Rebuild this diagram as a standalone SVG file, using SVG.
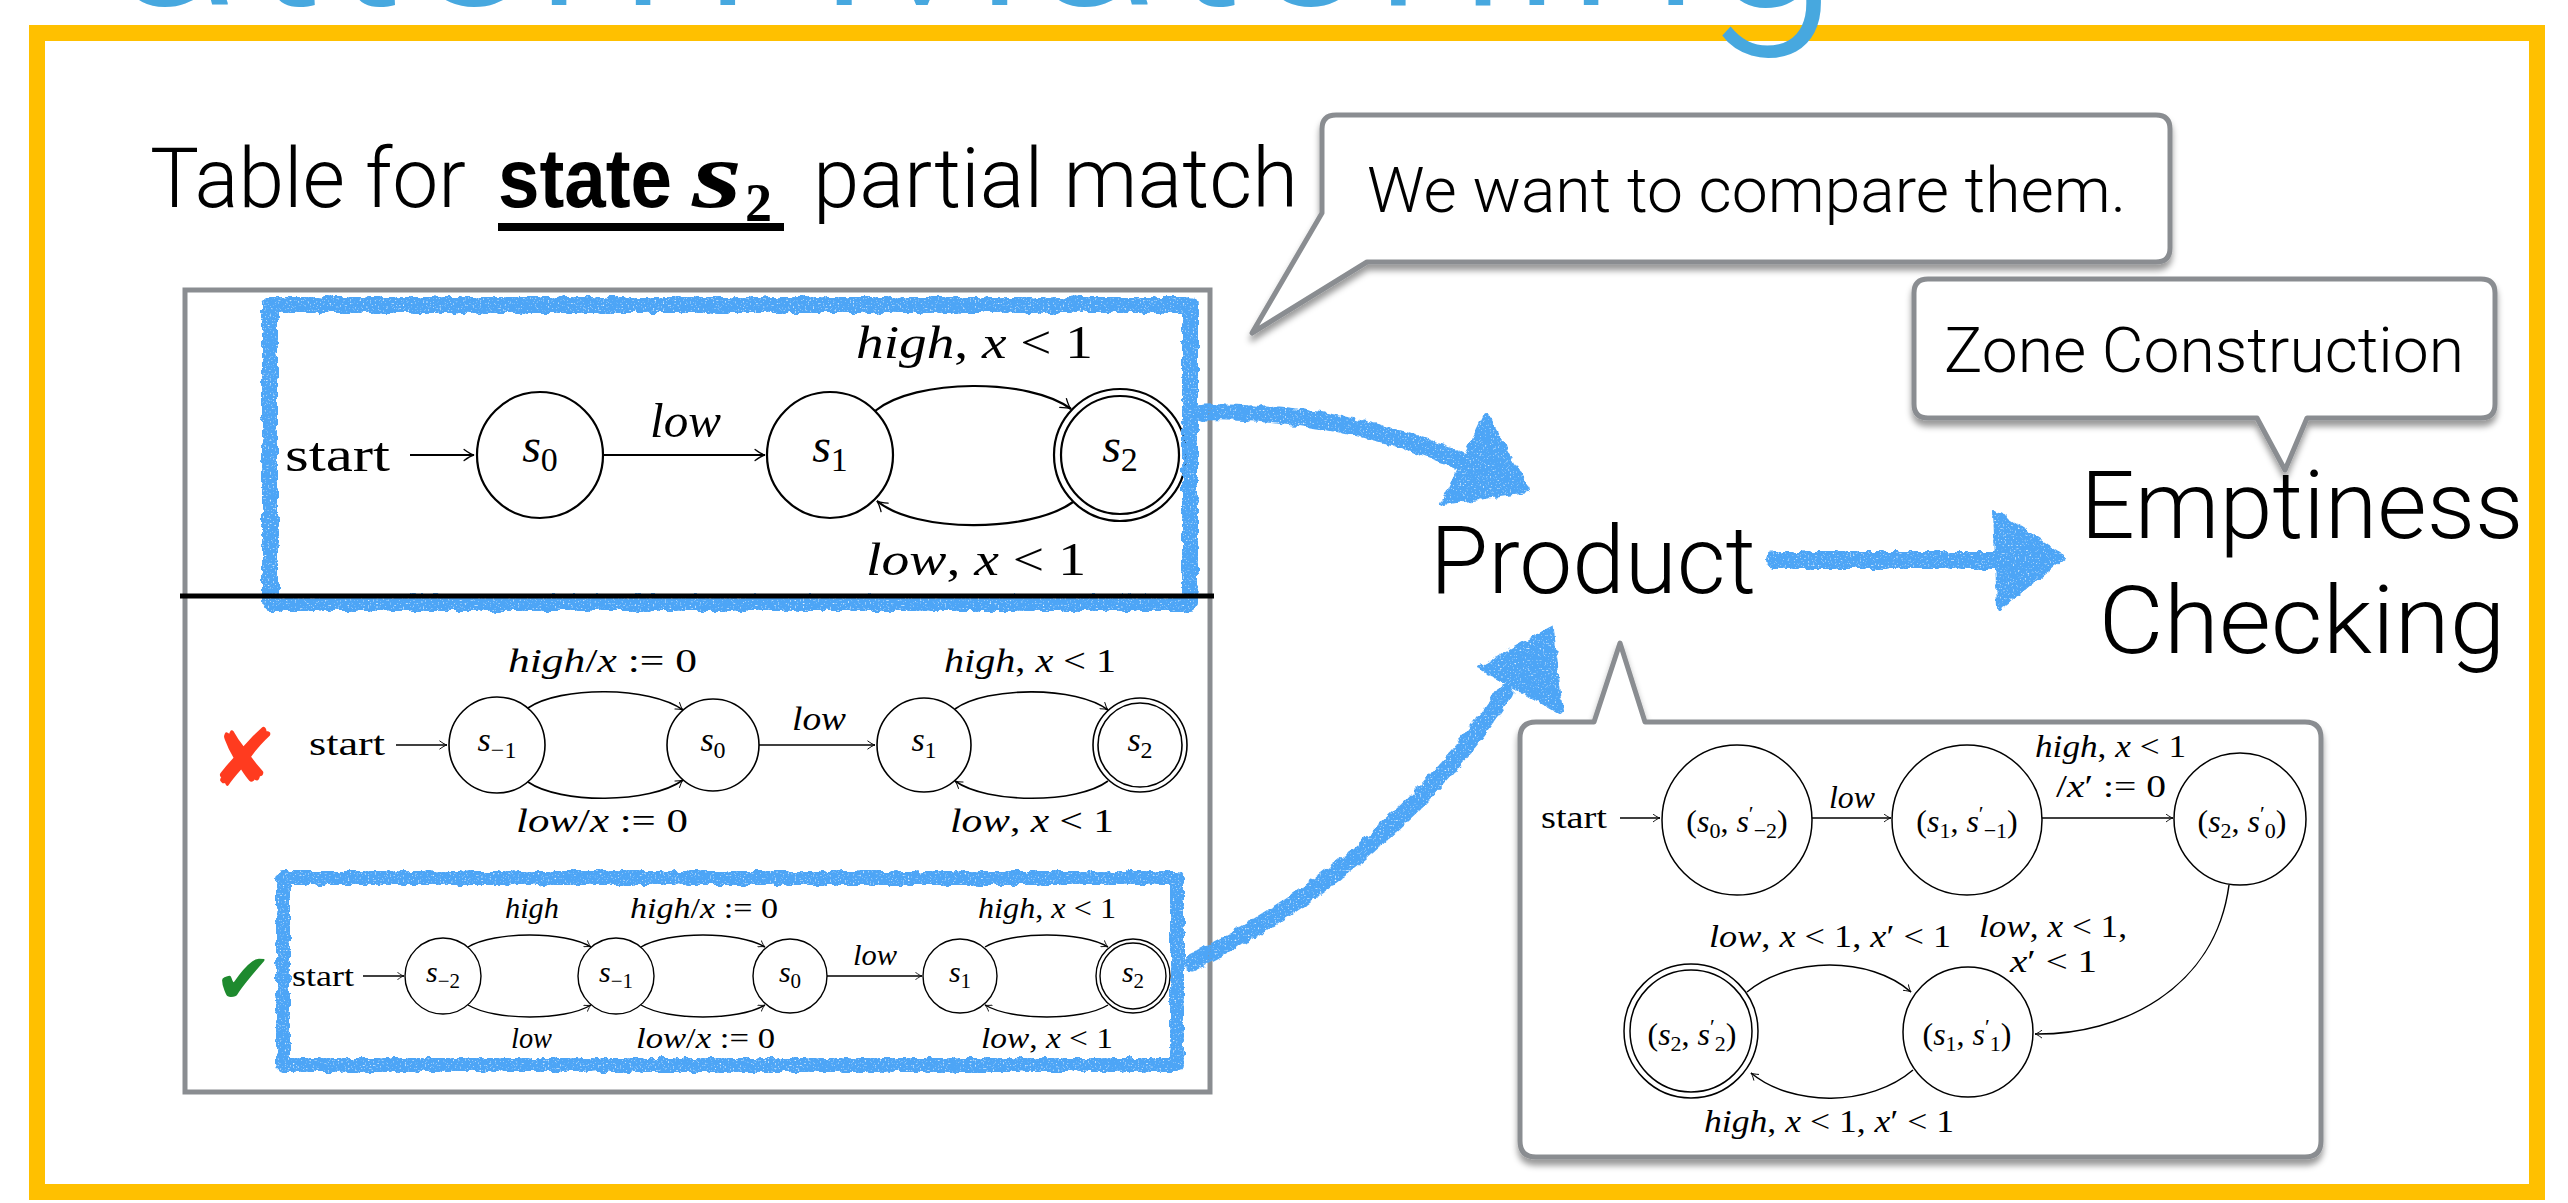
<svg xmlns="http://www.w3.org/2000/svg" width="2568" height="1203" viewBox="0 0 2568 1203">
<style>
.sans{font-family:Roboto,"Liberation Sans",Arial,sans-serif;font-weight:300;fill:#000}
.bsans{font-family:"Liberation Sans",Arial,sans-serif;font-weight:bold;fill:#000}
.m{font-family:"Liberation Serif","Times New Roman",serif;fill:#000}
.it{font-style:italic}
.st{fill:#fff;stroke:#000}
.ed{fill:none;stroke:#000;marker-end:url(#ah)}
.w1{stroke-width:2.2}
.w2{stroke-width:1.6}
.w3{stroke-width:1.4}
.w4{stroke-width:1.5}
.co{fill:#fff;stroke:#8A8D91;stroke-width:5;stroke-linejoin:round}
.blue{fill:none;stroke:#4DA5F6;stroke-linecap:round;stroke-linejoin:round}
.bluef{fill:#4DA5F6;stroke:#4DA5F6;stroke-width:4;stroke-linejoin:round}
</style>
<defs>
<marker id="ah" viewBox="-10 -6 12 12" refX="0" refY="0" markerWidth="6" markerHeight="6" orient="auto" markerUnits="strokeWidth">
<path d="M-9,-5 C-5,-2 -2,-0.5 0,0 C-2,0.5 -5,2 -9,5" fill="none" stroke="#000" stroke-width="1.2" stroke-linecap="round"/>
</marker>
<filter id="rough" x="-10%" y="-10%" width="120%" height="120%">
<feTurbulence type="fractalNoise" baseFrequency="0.12" numOctaves="2" seed="5" result="n"/>
<feDisplacementMap in="SourceGraphic" in2="n" scale="7" xChannelSelector="R" yChannelSelector="G" result="d"/>
<feTurbulence type="fractalNoise" baseFrequency="0.6" numOctaves="1" seed="9" result="n2"/>
<feColorMatrix in="n2" type="matrix" values="0 0 0 0 0  0 0 0 0 0  0 0 0 0 0  0 0 0 -4 3.4" result="mk"/>
<feComposite in="d" in2="mk" operator="in"/>
</filter>
<filter id="sh" x="-5%" y="-10%" width="110%" height="125%">
<feDropShadow dx="0" dy="6" stdDeviation="3" flood-color="#000" flood-opacity="0.4"/>
</filter>
</defs>

<rect width="2568" height="1203" fill="#fff"/>

<g id="frame">
<rect x="37" y="33" width="2500" height="1159" fill="none" stroke="#FFC000" stroke-width="16"/>
</g>

<g id="title">
<text class="sans" x="-42" y="5" font-size="250" textLength="1882" lengthAdjust="spacingAndGlyphs" style="fill:#47A8DF">Pattern Matching</text>
</g>

<g id="heading">
<text class="sans" x="150" y="207" font-size="84" textLength="316" lengthAdjust="spacingAndGlyphs">Table for</text>
<text class="bsans" x="498" y="207" font-size="84" textLength="174" lengthAdjust="spacingAndGlyphs">state</text>
<text class="m" x="692" y="207" font-size="96" font-weight="bold" font-style="italic" textLength="50" lengthAdjust="spacingAndGlyphs">s</text>
<text class="m" x="745" y="221" font-size="54" font-weight="bold">2</text>
<text class="sans" x="813" y="207" font-size="84" textLength="485" lengthAdjust="spacingAndGlyphs">partial match</text>
<rect x="498" y="223" width="286" height="8" fill="#000"/>
</g>

<g id="table">
<rect x="185" y="290" width="1025" height="802" fill="none" stroke="#8A8D91" stroke-width="5"/>
</g>

<!-- top automaton states -->
<g id="A-s0"><circle class="st w1" cx="540" cy="455" r="63"/><text class="m" x="540" y="462" font-size="48" text-anchor="middle"><tspan class="it">s</tspan><tspan dy="9" font-size="34">0</tspan></text></g>
<g id="A-s1"><circle class="st w1" cx="830" cy="455" r="63"/><text class="m" x="830" y="462" font-size="48" text-anchor="middle"><tspan class="it">s</tspan><tspan dy="9" font-size="34">1</tspan></text></g>
<g id="A-s2"><circle class="st w1" cx="1120" cy="455" r="66"/><circle class="st w1" cx="1120" cy="455" r="59"/><text class="m" x="1120" y="462" font-size="48" text-anchor="middle"><tspan class="it">s</tspan><tspan dy="9" font-size="34">2</tspan></text></g>

<!-- middle automaton states -->
<g id="B-sm1"><circle class="st w2" cx="497" cy="745" r="48"/><text class="m" x="497" y="751" font-size="34" text-anchor="middle"><tspan class="it">s</tspan><tspan dy="7" font-size="24">−1</tspan></text></g>
<g id="B-s0"><circle class="st w2" cx="713" cy="745" r="46"/><text class="m" x="713" y="751" font-size="34" text-anchor="middle"><tspan class="it">s</tspan><tspan dy="7" font-size="24">0</tspan></text></g>
<g id="B-s1"><circle class="st w2" cx="924" cy="745" r="47"/><text class="m" x="924" y="751" font-size="34" text-anchor="middle"><tspan class="it">s</tspan><tspan dy="7" font-size="24">1</tspan></text></g>
<g id="B-s2"><circle class="st w2" cx="1140" cy="745" r="47"/><circle class="st w2" cx="1140" cy="745" r="42"/><text class="m" x="1140" y="751" font-size="34" text-anchor="middle"><tspan class="it">s</tspan><tspan dy="7" font-size="24">2</tspan></text></g>

<!-- bottom automaton states -->
<g id="C-sm2"><circle class="st w3" cx="443" cy="976" r="38"/><text class="m" x="443" y="982" font-size="30" text-anchor="middle"><tspan class="it">s</tspan><tspan dy="6" font-size="21">−2</tspan></text></g>
<g id="C-sm1"><circle class="st w3" cx="616" cy="976" r="38"/><text class="m" x="616" y="982" font-size="30" text-anchor="middle"><tspan class="it">s</tspan><tspan dy="6" font-size="21">−1</tspan></text></g>
<g id="C-s0"><circle class="st w3" cx="790" cy="976" r="37"/><text class="m" x="790" y="982" font-size="30" text-anchor="middle"><tspan class="it">s</tspan><tspan dy="6" font-size="21">0</tspan></text></g>
<g id="C-s1"><circle class="st w3" cx="960" cy="976" r="37"/><text class="m" x="960" y="982" font-size="30" text-anchor="middle"><tspan class="it">s</tspan><tspan dy="6" font-size="21">1</tspan></text></g>
<g id="C-s2"><circle class="st w3" cx="1133" cy="976" r="37"/><circle class="st w3" cx="1133" cy="976" r="33"/><text class="m" x="1133" y="982" font-size="30" text-anchor="middle"><tspan class="it">s</tspan><tspan dy="6" font-size="21">2</tspan></text></g>

<g id="marks">
<text x="210" y="786" font-family="DejaVu Sans, sans-serif" font-size="80" fill="#FF3B1F">✘</text>
<text x="214" y="1003" font-family="DejaVu Sans, sans-serif" font-size="70" fill="#1E8A2E">✔</text>
</g>

<!-- edge labels of table automata -->
<g id="labels-table">
<text class="m" x="285" y="471" font-size="48" textLength="105" lengthAdjust="spacingAndGlyphs">start</text>
<text class="m it" x="650" y="437" font-size="48" textLength="71" lengthAdjust="spacingAndGlyphs">low</text>
<text class="m" x="856" y="358" font-size="46" textLength="237" lengthAdjust="spacingAndGlyphs"><tspan class="it">high</tspan>, <tspan class="it">x</tspan> &lt; 1</text>
<text class="m" x="866" y="575" font-size="46" textLength="220" lengthAdjust="spacingAndGlyphs"><tspan class="it">low</tspan>, <tspan class="it">x</tspan> &lt; 1</text>

<text class="m" x="309" y="755" font-size="34" textLength="76" lengthAdjust="spacingAndGlyphs">start</text>
<text class="m" x="508" y="672" font-size="34" textLength="189" lengthAdjust="spacingAndGlyphs"><tspan class="it">high</tspan>/<tspan class="it">x</tspan> := 0</text>
<text class="m it" x="792" y="730" font-size="34" textLength="54" lengthAdjust="spacingAndGlyphs">low</text>
<text class="m" x="944" y="672" font-size="34" textLength="172" lengthAdjust="spacingAndGlyphs"><tspan class="it">high</tspan>, <tspan class="it">x</tspan> &lt; 1</text>
<text class="m" x="516" y="832" font-size="34" textLength="172" lengthAdjust="spacingAndGlyphs"><tspan class="it">low</tspan>/<tspan class="it">x</tspan> := 0</text>
<text class="m" x="950" y="832" font-size="34" textLength="164" lengthAdjust="spacingAndGlyphs"><tspan class="it">low</tspan>, <tspan class="it">x</tspan> &lt; 1</text>

<text class="m" x="292" y="986" font-size="30" textLength="62" lengthAdjust="spacingAndGlyphs">start</text>
<text class="m it" x="505" y="918" font-size="30" textLength="54" lengthAdjust="spacingAndGlyphs">high</text>
<text class="m" x="630" y="918" font-size="30" textLength="148" lengthAdjust="spacingAndGlyphs"><tspan class="it">high</tspan>/<tspan class="it">x</tspan> := 0</text>
<text class="m" x="978" y="918" font-size="30" textLength="138" lengthAdjust="spacingAndGlyphs"><tspan class="it">high</tspan>, <tspan class="it">x</tspan> &lt; 1</text>
<text class="m it" x="853" y="965" font-size="30" textLength="44" lengthAdjust="spacingAndGlyphs">low</text>
<text class="m it" x="511" y="1048" font-size="30" textLength="41" lengthAdjust="spacingAndGlyphs">low</text>
<text class="m" x="636" y="1048" font-size="30" textLength="139" lengthAdjust="spacingAndGlyphs"><tspan class="it">low</tspan>/<tspan class="it">x</tspan> := 0</text>
<text class="m" x="981" y="1048" font-size="30" textLength="132" lengthAdjust="spacingAndGlyphs"><tspan class="it">low</tspan>, <tspan class="it">x</tspan> &lt; 1</text>
</g>

<!-- callouts -->
<g id="callout-compare">
<path class="co" filter="url(#sh)" d="M1336,115 H2156 Q2170,115 2170,129 V248 Q2170,262 2156,262 H1367 L1252,333 L1322,213 V129 Q1322,115 1336,115 Z"/>
<text class="sans" x="1367" y="212" font-size="63" textLength="759" lengthAdjust="spacingAndGlyphs">We want to compare them.</text>
</g>
<g id="callout-zone">
<path class="co" filter="url(#sh)" d="M1928,279 H2481 Q2495,279 2495,293 V404 Q2495,418 2481,418 H2307 L2285,470 L2257,418 H1928 Q1914,418 1914,404 V293 Q1914,279 1928,279 Z"/>
<text class="sans" x="1944" y="372" font-size="63" textLength="520" lengthAdjust="spacingAndGlyphs">Zone Construction</text>
</g>
<g id="callout-product">
<path class="co" filter="url(#sh)" d="M1536,722 H1594 L1620,643 L1645,722 H2305 Q2321,722 2321,738 V1141 Q2321,1157 2305,1157 H1536 Q1520,1157 1520,1141 V738 Q1520,722 1536,722 Z"/>
</g>

<!-- product automaton states -->
<g id="D-p1"><circle class="st w4" cx="1737" cy="820" r="75"/><text class="m" x="1737" y="832" font-size="32" text-anchor="middle">(<tspan class="it">s</tspan><tspan dy="6" font-size="22">0</tspan><tspan dy="-6">, </tspan><tspan class="it">s</tspan><tspan dy="-11" font-size="22">′</tspan><tspan dy="17" font-size="22">−2</tspan><tspan dy="-6">)</tspan></text></g>
<g id="D-p2"><circle class="st w4" cx="1967" cy="820" r="75"/><text class="m" x="1967" y="832" font-size="32" text-anchor="middle">(<tspan class="it">s</tspan><tspan dy="6" font-size="22">1</tspan><tspan dy="-6">, </tspan><tspan class="it">s</tspan><tspan dy="-11" font-size="22">′</tspan><tspan dy="17" font-size="22">−1</tspan><tspan dy="-6">)</tspan></text></g>
<g id="D-p3"><circle class="st w4" cx="2240" cy="819" r="66"/><text class="m" x="2242" y="832" font-size="32" text-anchor="middle">(<tspan class="it">s</tspan><tspan dy="6" font-size="22">2</tspan><tspan dy="-6">, </tspan><tspan class="it">s</tspan><tspan dy="-11" font-size="22">′</tspan><tspan dy="17" font-size="22">0</tspan><tspan dy="-6">)</tspan></text></g>
<g id="D-p4"><circle class="st w4" cx="1968" cy="1032" r="65"/><text class="m" x="1967" y="1045" font-size="32" text-anchor="middle">(<tspan class="it">s</tspan><tspan dy="6" font-size="22">1</tspan><tspan dy="-6">, </tspan><tspan class="it">s</tspan><tspan dy="-11" font-size="22">′</tspan><tspan dy="17" font-size="22">1</tspan><tspan dy="-6">)</tspan></text></g>
<g id="D-p5"><circle class="st w4" cx="1691" cy="1031" r="67"/><circle class="st w4" cx="1691" cy="1031" r="61"/><text class="m" x="1692" y="1045" font-size="32" text-anchor="middle">(<tspan class="it">s</tspan><tspan dy="6" font-size="22">2</tspan><tspan dy="-6">, </tspan><tspan class="it">s</tspan><tspan dy="-11" font-size="22">′</tspan><tspan dy="17" font-size="22">2</tspan><tspan dy="-6">)</tspan></text></g>

<g id="labels-product">
<text class="m" x="1541" y="828" font-size="32" textLength="66" lengthAdjust="spacingAndGlyphs">start</text>
<text class="m it" x="1829" y="808" font-size="32" textLength="46" lengthAdjust="spacingAndGlyphs">low</text>
<text class="m" x="2035" y="757" font-size="32" textLength="151" lengthAdjust="spacingAndGlyphs"><tspan class="it">high</tspan>, <tspan class="it">x</tspan> &lt; 1</text>
<text class="m" x="2056" y="797" font-size="32" textLength="110" lengthAdjust="spacingAndGlyphs">/<tspan class="it">x</tspan>′ := 0</text>
<text class="m" x="1979" y="937" font-size="32" textLength="148" lengthAdjust="spacingAndGlyphs"><tspan class="it">low</tspan>, <tspan class="it">x</tspan> &lt; 1,</text>
<text class="m" x="2010" y="972" font-size="32" textLength="87" lengthAdjust="spacingAndGlyphs"><tspan class="it">x</tspan>′ &lt; 1</text>
<text class="m" x="1709" y="947" font-size="32" textLength="242" lengthAdjust="spacingAndGlyphs"><tspan class="it">low</tspan>, <tspan class="it">x</tspan> &lt; 1, <tspan class="it">x</tspan>′ &lt; 1</text>
<text class="m" x="1704" y="1132" font-size="32" textLength="250" lengthAdjust="spacingAndGlyphs"><tspan class="it">high</tspan>, <tspan class="it">x</tspan> &lt; 1, <tspan class="it">x</tspan>′ &lt; 1</text>
</g>

<g id="product"><text class="sans" x="1430" y="593" font-size="94" textLength="326" lengthAdjust="spacingAndGlyphs">Product</text></g>
<g id="emptiness"><text class="sans" x="2302" y="538" font-size="95" text-anchor="middle" textLength="443" lengthAdjust="spacingAndGlyphs">Emptiness</text><text class="sans" x="2302" y="653" font-size="95" text-anchor="middle" textLength="407" lengthAdjust="spacingAndGlyphs">Checking</text></g>

<g id="connectors">
<g>
<path class="ed w1" d="M410,455 H474"/>
<path class="ed w1" d="M603,455 H765"/>
<path class="ed w1" d="M875,411 C915,378 1030,378 1071,409"/>
<path class="ed w1" d="M1073,502 C1030,533 915,533 877,501"/>
</g>
<g>
<path class="ed w2" d="M396,745 H447"/>
<path class="ed w2" d="M528,708 C560,686 650,686 683,710"/>
<path class="ed w2" d="M528,782 C560,804 650,804 683,780"/>
<path class="ed w2" d="M759,745 H875"/>
<path class="ed w2" d="M955,709 C987,686 1077,686 1108,710"/>
<path class="ed w2" d="M1108,781 C1077,804 987,804 955,781"/>
</g>
<g>
<path class="ed w3" d="M363,976 H404"/>
<path class="ed w3" d="M468,947 C495,931 565,931 591,947"/>
<path class="ed w3" d="M468,1005 C495,1021 565,1021 591,1005"/>
<path class="ed w3" d="M641,947 C668,931 738,931 765,947"/>
<path class="ed w3" d="M641,1005 C668,1021 738,1021 765,1005"/>
<path class="ed w3" d="M827,976 H922"/>
<path class="ed w3" d="M985,947 C1012,931 1082,931 1108,947"/>
<path class="ed w3" d="M1108,1005 C1082,1021 1012,1021 985,1005"/>
</g>
<g>
<path class="ed w4" d="M1620,818 H1660"/>
<path class="ed w4" d="M1812,818 H1891"/>
<path class="ed w4" d="M2042,818 H2173"/>
<path class="ed w4" d="M2229,885 C2215,990 2120,1035 2035,1034"/>
<path class="ed w4" d="M1747,992 C1790,956 1870,956 1911,992"/>
<path class="ed w4" d="M1913,1070 C1870,1107 1792,1107 1751,1073"/>
</g>
<g id="blue-sketch" filter="url(#rough)">
<rect class="blue" x="270" y="305" width="920" height="298" stroke-width="16"/>
<rect class="blue" x="283" y="878" width="894" height="187" stroke-width="14"/>
</g>
<g id="arrow-top" filter="url(#rough)">
<path class="blue" d="M1202,412 C1280,410 1380,425 1462,462" stroke-width="17"/>
<polygon class="bluef" points="1486,414 1443,503 1528,491"/>
</g>
<g id="arrow-mid" filter="url(#rough)">
<path class="blue" d="M1775,560 H2000" stroke-width="18"/>
<polygon class="bluef" points="1995,512 2063,557 1999,608"/>
</g>
<g id="arrow-bot" filter="url(#rough)">
<path class="blue" d="M1192,962 C1300,910 1420,820 1505,692" stroke-width="17"/>
<polygon class="bluef" points="1552,628 1480,668 1561,713"/>
</g>
</g>

<g id="divider"><line x1="180" y1="596" x2="1214" y2="596" stroke="#000" stroke-width="5"/></g>
</svg>
